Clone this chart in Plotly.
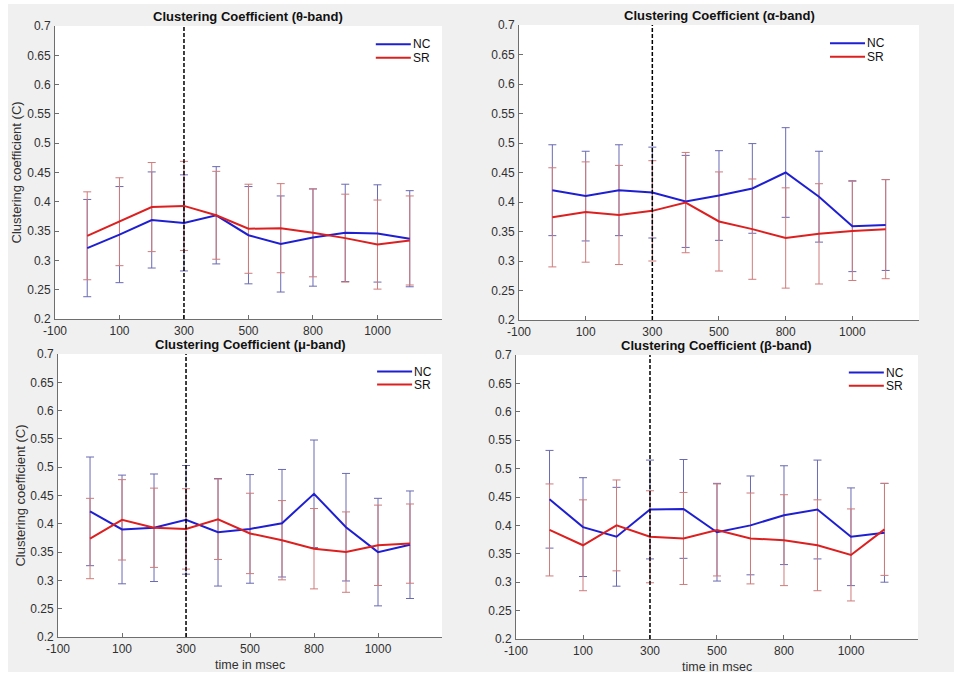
import plotly.graph_objects as go

# ---------------- data ----------------
time_ms = [0, 100, 200, 300, 400, 500, 600, 700, 800, 900, 1000]

theta_nc = [0.321, 0.344, 0.369, 0.364, 0.377, 0.343, 0.328, 0.339, 0.347, 0.346, 0.337]
theta_sr = [0.342, 0.366, 0.391, 0.393, 0.377, 0.354, 0.355, 0.347, 0.338, 0.327, 0.334]
theta_nc_err = [0.083, 0.082, 0.082, 0.082, 0.083, 0.083, 0.082, 0.083, 0.083, 0.083, 0.082]
theta_sr_err = [0.075, 0.075, 0.076, 0.076, 0.075, 0.076, 0.076, 0.075, 0.075, 0.076, 0.076]

alpha_nc = [0.420, 0.410, 0.420, 0.416, 0.401, 0.411, 0.423, 0.450, 0.409, 0.359, 0.361]
alpha_sr = [0.374, 0.383, 0.378, 0.385, 0.399, 0.367, 0.354, 0.339, 0.346, 0.351, 0.354]
alpha_nc_err = [0.077, 0.076, 0.077, 0.077, 0.078, 0.076, 0.076, 0.076, 0.077, 0.077, 0.077]
alpha_sr_err = [0.084, 0.085, 0.084, 0.085, 0.085, 0.084, 0.085, 0.085, 0.085, 0.084, 0.084]

mu_nc = [0.422, 0.390, 0.393, 0.407, 0.385, 0.391, 0.401, 0.453, 0.394, 0.350, 0.363]
mu_sr = [0.374, 0.407, 0.393, 0.391, 0.408, 0.383, 0.371, 0.356, 0.350, 0.362, 0.365]
mu_nc_err = [0.096, 0.096, 0.095, 0.096, 0.095, 0.096, 0.095, 0.095, 0.095, 0.095, 0.095]
mu_sr_err = [0.071, 0.071, 0.070, 0.071, 0.071, 0.071, 0.070, 0.071, 0.071, 0.071, 0.070]

beta_nc = [0.446, 0.397, 0.380, 0.428, 0.429, 0.388, 0.400, 0.418, 0.428, 0.380, 0.387]
beta_sr = [0.392, 0.365, 0.400, 0.380, 0.377, 0.392, 0.377, 0.374, 0.365, 0.348, 0.393]
beta_nc_err = [0.086, 0.087, 0.087, 0.087, 0.087, 0.086, 0.087, 0.087, 0.087, 0.086, 0.087]
beta_sr_err = [0.081, 0.080, 0.080, 0.081, 0.081, 0.081, 0.080, 0.080, 0.080, 0.081, 0.081]

titles = ["Clustering Coefficient (θ-band)", "Clustering Coefficient (α-band)",
          "Clustering Coefficient (μ-band)", "Clustering Coefficient (β-band)"]
series_names = ["NC", "SR"]
stimulus_onset = 300

x_tickvals = [-100, 100, 300, 500, 700, 900, 1100]
x_ticktext = ["-100", "100", "300", "500", "800", "1000", ""]
y_tickvals = [0.2, 0.25, 0.3, 0.35, 0.4, 0.45, 0.5, 0.55, 0.6, 0.65, 0.7]
y_ticktext = ["0.2", "0.25", "0.3", "0.35", "0.4", "0.45", "0.5", "0.55", "0.6", "0.65", "0.7"]

y_label = "Clustering coefficient (C)"
x_label = "time in msec"

# ---------------- styling ----------------
FONT = "Liberation Sans, Arial, Helvetica, sans-serif"
BLUE = "#1f1fd2"
RED = "#dc2020"
BLUE_ERR = "#6a6ab4"
RED_ERR = "#cf7b7b"
AXIS_COL = "#6e6e6e"
TXT = "#303030"

panels = [
    dict(nc=theta_nc, sr=theta_sr, nce=theta_nc_err, sre=theta_sr_err,
         xd=[0.0057, 0.4485], yd=[0.5216, 0.9904], leg=0.829, ylab=True, xlab=False),
    dict(nc=alpha_nc, sr=alpha_sr, nce=alpha_nc_err, sre=alpha_sr_err,
         xd=[0.5366, 0.9943], yd=[0.5200, 0.9920], leg=0.7775, ylab=False, xlab=False),
    dict(nc=mu_nc, sr=mu_sr, nce=mu_nc_err, sre=mu_sr_err,
         xd=[0.0092, 0.4485], yd=[0.0128, 0.4656], leg=0.831, ylab=True, xlab=True),
    dict(nc=beta_nc, sr=beta_sr, nce=beta_nc_err, sre=beta_sr_err,
         xd=[0.5332, 0.9931], yd=[0.0096, 0.4640], leg=0.828, ylab=False, xlab=True),
]

fig = go.Figure()
shapes = []
annotations = []

W_PLOT = 874.0  # plot-area width in px (954 - l - r)

for i, p in enumerate(panels):
    k = "" if i == 0 else str(i + 1)
    xa, ya = "x" + k, "y" + k

    # error bars first (below lines)
    for vals, errs, ecol in [(p["nc"], p["nce"], BLUE_ERR), (p["sr"], p["sre"], RED_ERR)]:
        fig.add_trace(go.Scatter(
            x=time_ms, y=vals, mode="markers",
            marker=dict(size=1, color="rgba(0,0,0,0)"),
            error_y=dict(type="data", array=errs, visible=True, color=ecol,
                         thickness=1, width=4),
            xaxis=xa, yaxis=ya, showlegend=False, hoverinfo="skip"))
    # mean lines
    for vals, col, nm in [(p["nc"], BLUE, series_names[0]), (p["sr"], RED, series_names[1])]:
        fig.add_trace(go.Scatter(
            x=time_ms, y=vals, mode="lines", name=nm,
            line=dict(color=col, width=2),
            xaxis=xa, yaxis=ya, showlegend=False))

    axis_common = dict(showline=True, linecolor=AXIS_COL, linewidth=1, mirror=False,
                       ticks="inside", ticklen=4, tickcolor=AXIS_COL, tickwidth=1,
                       showgrid=False, zeroline=False,
                       tickfont=dict(family=FONT, size=12, color=TXT))
    fig.update_layout(**{
        "xaxis" + k: dict(domain=p["xd"], range=[-100, 1100], anchor=ya,
                          tickmode="array", tickvals=x_tickvals, ticktext=x_ticktext,
                          ticklabelstandoff=1, **axis_common),
        "yaxis" + k: dict(domain=p["yd"], range=[0.2, 0.7], anchor=xa,
                          tickmode="array", tickvals=y_tickvals, ticktext=y_ticktext,
                          ticklabelstandoff=1, **axis_common),
    })

    # dashed stimulus line
    shapes.append(dict(type="line", xref=xa, yref=ya + " domain",
                       x0=stimulus_onset, x1=stimulus_onset, y0=0, y1=1,
                       line=dict(color="black", width=1.5, dash="4px,2px")))

    # title
    annotations.append(dict(text="<b>" + titles[i] + "</b>", xref=xa + " domain",
                            yref=ya + " domain", x=0.5, y=1, xanchor="center",
                            yanchor="bottom", yshift=0, showarrow=False,
                            font=dict(family=FONT, size=13, color="#111111")))
    if p["ylab"]:
        annotations.append(dict(text=y_label, xref=xa + " domain", yref=ya + " domain",
                                x=0, y=0.5, xshift=-38, textangle=-90, showarrow=False,
                                xanchor="center", yanchor="middle",
                                font=dict(family=FONT, size=13, color=TXT)))
    if p["xlab"]:
        annotations.append(dict(text=x_label, xref=xa + " domain", yref=ya + " domain",
                                x=0.5, y=0, yshift=-28, showarrow=False,
                                xanchor="center", yanchor="middle",
                                font=dict(family=FONT, size=12.5, color=TXT)))

    # legend (sample lines + labels)
    dom_w = (p["xd"][1] - p["xd"][0]) * W_PLOT
    seg = 35.0 / dom_w
    for j, (nm, col) in enumerate([(series_names[0], BLUE), (series_names[1], RED)]):
        yy = 0.938 - j * 0.046
        shapes.append(dict(type="line", xref=xa + " domain", yref=ya + " domain",
                           x0=p["leg"], x1=p["leg"] + seg, y0=yy, y1=yy,
                           line=dict(color=col, width=2)))
        annotations.append(dict(text=nm, xref=xa + " domain", yref=ya + " domain",
                                x=p["leg"] + seg, y=yy, xshift=0, xanchor="left",
                                yanchor="middle", showarrow=False,
                                font=dict(family=FONT, size=12, color="#111111")))

# outer white frame (figure border in the screenshot)
for (x0, x1, y0, y1) in [(-0.06, -0.0481, -0.05, 1.04),
                         (-0.06, 1.04, 1.0256, 1.04),
                         (-0.06, 1.04, -0.05, -0.0432)]:
    shapes.append(dict(type="rect", xref="paper", yref="paper", x0=x0, x1=x1,
                       y0=y0, y1=y1, fillcolor="white", line=dict(width=0),
                       layer="below"))

fig.update_layout(
    width=954, height=675,
    margin=dict(l=50, r=30, t=20, b=30),
    paper_bgcolor="#f0f0f0", plot_bgcolor="white",
    showlegend=False,
    shapes=shapes, annotations=annotations,
    font=dict(family=FONT, size=12, color=TXT),
)

fig.write_html("out.html")
